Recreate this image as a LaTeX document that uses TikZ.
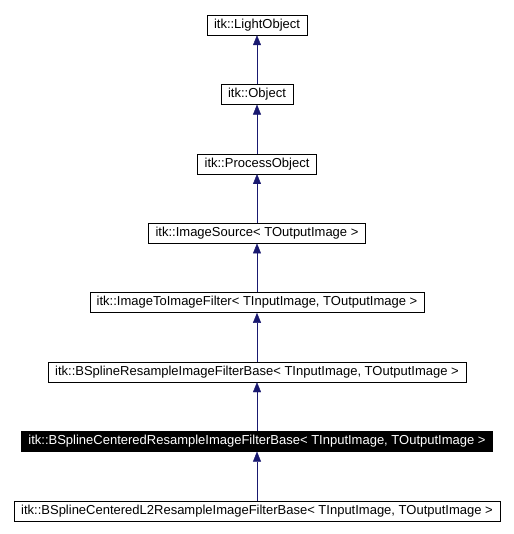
\documentclass[tikz,border=0pt]{standalone}
\usepackage{fontspec}
\setmainfont{Liberation Sans}
\usetikzlibrary{arrows.meta,positioning}
\definecolor{inhblue}{RGB}{25,25,112}
\tikzstyle{cls} = [rectangle, draw=black, fill=white, minimum height=20pt, inner xsep=7pt, inner ysep=0pt, font=\fontsize{13}{15}\selectfont]
\tikzstyle{clscur} = [cls, fill=black, text=white]
\tikzstyle{inh} = [draw=inhblue, -{Triangle[length=10pt,width=8pt]}]

\begin{document}
\begin{tikzpicture}[x=1pt, y=1pt, node distance=49pt]
\useasboundingbox (0,0) rectangle (513,-534);
\node[cls] (light) at (257,-25) {itk::LightObject};
\node[cls, below=of light] (obj) {itk::Object};
\node[cls, below=of obj] (proc) {itk::ProcessObject};
\node[cls, below=of proc] (src) {itk::ImageSource< TOutputImage >};
\node[cls, below=of src] (i2i) {itk::ImageToImageFilter< TInputImage, TOutputImage >};
\node[cls, below=of i2i] (bsr) {itk::BSplineResampleImageFilterBase< TInputImage, TOutputImage >};
\node[clscur, below=of bsr] (bsc) {itk::BSplineCenteredResampleImageFilterBase< TInputImage, TOutputImage >};
\node[cls, below=of bsc] (bsl) {itk::BSplineCenteredL2ResampleImageFilterBase< TInputImage, TOutputImage >};

\draw[inh] (obj) -- (light);
\draw[inh] (proc) -- (obj);
\draw[inh] (src) -- (proc);
\draw[inh] (i2i) -- (src);
\draw[inh] (bsr) -- (i2i);
\draw[inh] (bsc) -- (bsr);
\draw[inh] (bsl) -- (bsc);
\end{tikzpicture}
\end{document}
